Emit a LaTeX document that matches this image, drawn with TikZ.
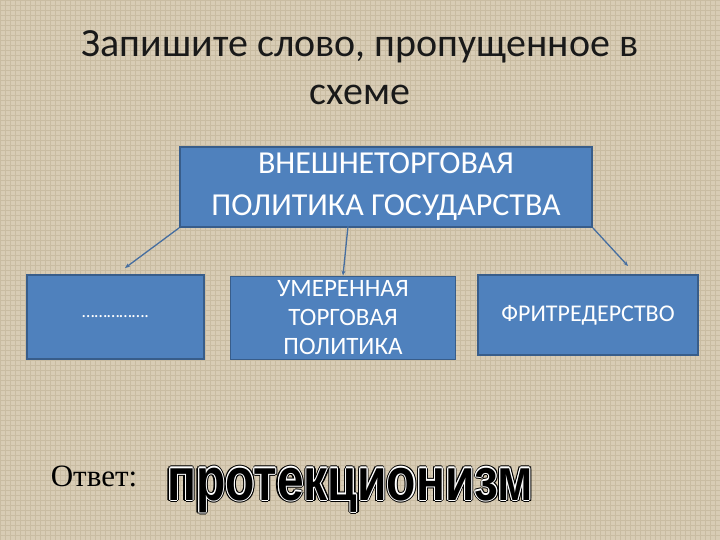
\documentclass[tikz,border=0pt]{standalone}
\usepackage{fontspec}
\setmainfont{Carlito}
\newfontfamily\timesf{Liberation Serif}
\newfontfamily\ansfont{Liberation Sans Bold}
\usetikzlibrary{arrows.meta}
\definecolor{bgbeige}{RGB}{216,204,181}
\definecolor{bggrid}{RGB}{201,188,162}
\definecolor{boxblue}{RGB}{79,129,189}
\definecolor{boxedge}{RGB}{56,93,138}
\definecolor{linkblue}{RGB}{70,110,160}
\tikzset{
  bluebox/.style={draw=boxedge, line width=1.8pt, fill=boxblue, text=white, align=center, inner sep=0pt},
  link/.style={draw=linkblue, line width=1.3pt, -{Stealth[length=5pt,width=4pt]}},
  ansnode/.style={inner sep=0pt, anchor=base, font=\ansfont\fontsize{60}{66}\selectfont},
}
\newcommand{\answord}{\scalebox{0.8}[1]{протекционизм}}
\begin{document}
\begin{tikzpicture}[x=1pt,y=-1pt]
\useasboundingbox (0,0) rectangle (720,540);
\fill[bgbeige] (0,0) rectangle (720,540);
\begin{scope}
\clip (0,0) rectangle (720,540);
\draw[bggrid, line width=0.6pt, step=5pt] (0,0) grid (720,540);
\end{scope}
% title
\node[font=\fontsize{40}{48}\selectfont, align=center, text=black!90] (title) at (360,68)
  {Запишите слово, пропущенное в\\схеме};
% boxes
\node[bluebox, minimum width=412pt, minimum height=80pt, font=\fontsize{32}{42}\selectfont] (top) at (386,187)
  {ВНЕШНЕТОРГОВАЯ\\ПОЛИТИКА ГОСУДАРСТВА};
\node[bluebox, minimum width=177pt, minimum height=84pt, font=\fontsize{18}{28}\selectfont] (left) at (115.5,317)
  {…………….};
\node[bluebox, minimum width=225pt, minimum height=83pt, font=\fontsize{25}{29}\selectfont] (mid) at (343,318)
  {УМЕРЕННАЯ\\ТОРГОВАЯ\\ПОЛИТИКА};
\node[bluebox, minimum width=220pt, minimum height=80pt, font=\fontsize{24}{28}\selectfont] (right) at (588,315)
  {ФРИТРЕДЕРСТВО};
% connectors
\coordinate (lend) at (125,268);
\coordinate (rend) at (628,266);
\coordinate (mstart) at (348,226);
\draw[link] (top.south west) -- (lend);
\draw[link] (mstart) -- (mid.north);
\draw[link] (top.south east) -- (rend);
% answer
\node[font=\timesf\fontsize{31}{36}\selectfont, text=black] (otvet) at (94,476) {Ответ:};
\coordinate (ansbase) at (350,500);
\foreach \dx/\dy in {2.2/0,-2.2/0,0/2.2,0/-2.2,1.6/1.6,-1.6/1.6,1.6/-1.6,-1.6/-1.6}{
  \node[ansnode, text=black] at ([shift={(\dx,\dy)}]ansbase) {\answord};}
\foreach \dx/\dy in {1.1/0,-1.1/0,0/1.1,0/-1.1,0.8/0.8,-0.8/0.8,0.8/-0.8,-0.8/-0.8}{
  \node[ansnode, text=white] at ([shift={(\dx,\dy)}]ansbase) {\answord};}
\node[ansnode, text=black] (ans) at (ansbase) {\answord};
\end{tikzpicture}
\end{document}
